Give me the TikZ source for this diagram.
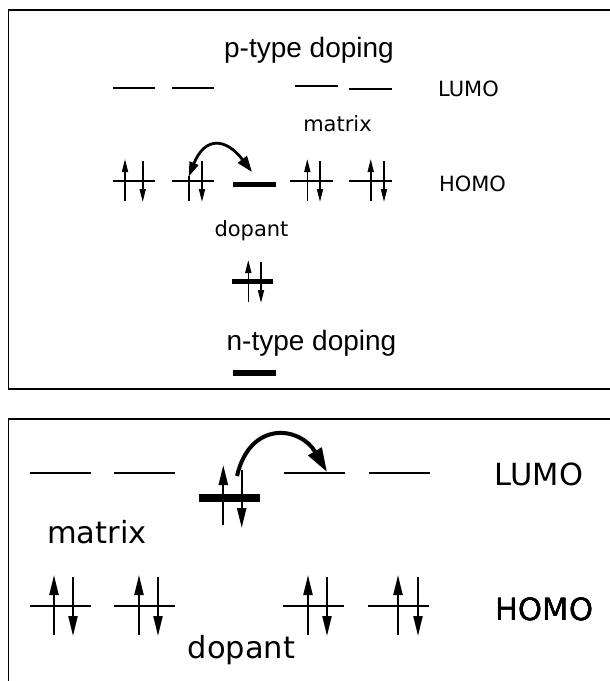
\documentclass[tikz,border=0pt]{standalone}
\usepackage{fontspec}
\newfontfamily\levelfont{DejaVu Sans}
\newfontfamily\titlefont{Liberation Sans}
\usetikzlibrary{arrows.meta}
\tikzstyle{panel}=[line width=1.6pt]
\tikzstyle{lumo}=[line width=2pt]
\tikzstyle{homo}=[line width=1.4pt]
\tikzstyle{dopantbar}=[line width=5pt]
\tikzstyle{spin}=[line width=1.6pt,-{Triangle[length=13pt,width=6pt]}]
\tikzstyle{bigspin}=[line width=2.3pt,-{Triangle[length=20pt,width=9pt]}]
\tikzstyle{smalltext}=[anchor=base,inner sep=0pt,font=\levelfont\fontsize{21}{25}\selectfont]
\tikzstyle{bigtext}=[anchor=base,inner sep=0pt,font=\levelfont\fontsize{30.5}{36}\selectfont]
\tikzstyle{titletext}=[anchor=base,inner sep=0pt,font=\titlefont\fontsize{28}{33}\selectfont]
\newcommand{\spinpair}[5][spin]{% up arrow at x=#2, down arrow at x=#3, between y=#4 (top) and y=#5 (bottom)
  \draw[#1] (#2,#5) -- (#2,#4);
  \draw[#1] (#3,#4+2) -- (#3,#5+1);
}
\begin{document}
\begin{tikzpicture}[x=1pt,y=-1pt]
	\useasboundingbox (0,0) rectangle (610,681);
	% upper panel
	\draw[panel] (8.5,10) rectangle (625,389);
	\node[titletext] (ptitle) at (309,57) {p-type doping};
	\foreach \x/\y in {112.7/88.3,171.7/88.3,295/85.7,349/88.7}
		\draw[lumo] (\x,\y) -- ++(42.5,0);
	\node[smalltext] (lumoa) at (468.5,96.7) {LUMO};
	\node[smalltext] (matrixa) at (337.5,131.7) {matrix};
	\foreach \x in {112.7,171.7,290,349}
		\draw[homo] (\x,181) -- ++(42.5,0);
	\draw[dopantbar] (233,184.3) -- (276,184.3);
	\node[smalltext] (homoa) at (472.5,191) {HOMO};
	\spinpair{125}{142.7}{159}{201}
	\spinpair{307.3}{320}{159}{201}
	\spinpair{370.7}{384}{159}{201}
	\draw[line width=1.6pt] (189,201) -- (189,176);
	\draw[spin] (202,161) -- (202,202);
	%hole
	\coordinate (hole) at (188.5,177);
	\coordinate (acceptor) at (252,172);
	\draw[line width=2.8pt,{Triangle[length=15pt,width=9pt]}-{Triangle[length=16pt,width=11pt]}] (hole) .. controls (205,136) and (226,138) .. (acceptor);
	\node[smalltext] (dopanta) at (251.5,236.7) {dopant};
	\draw[dopantbar] (231.7,281.7) -- (273.3,281.7);
	\spinpair{248.3}{261}{260}{302}
	\node[titletext] (ntitle) at (311.5,350) {n-type doping};
	\draw[line width=5.7pt] (233,373) -- (276,373);
	% lower panel
	\draw[panel] (8.5,419) rectangle (625,700);
	\foreach \x in {30,114,284,369}
		\draw[line width=2.2pt] (\x,473.3) -- ++(60.5,0);
	\node[bigtext] (lumob) at (539,485) {LUMO};
	\node[bigtext] (matrixb) at (97,543) {matrix};
	\draw[line width=7.5pt] (199.3,498) -- (260,498);
	\draw[bigspin] (223.3,525) -- (223.3,465);
	\draw[bigspin] (241.7,470) -- (241.7,528);
	%electron
	\coordinate (donor) at (237,476);
	\coordinate (level) at (327,472);
	\draw[line width=4pt,-{Triangle[length=24pt,width=15pt]}] (donor) .. controls (250,420) and (300,426) .. (level);
	\foreach \x in {30,114,283,368}
		\draw[line width=1.6pt] (\x,606) -- ++(61,0);
	\foreach \u/\d in {54/73,139/158,308/327,398/418}
		\spinpair[bigspin]{\u}{\d}{575}{635}
	\node[bigtext] (homob) at (544.5,620) {HOMO};
	\node[bigtext] (dopantb) at (241.5,658) {dopant};
\end{tikzpicture}
\end{document}
